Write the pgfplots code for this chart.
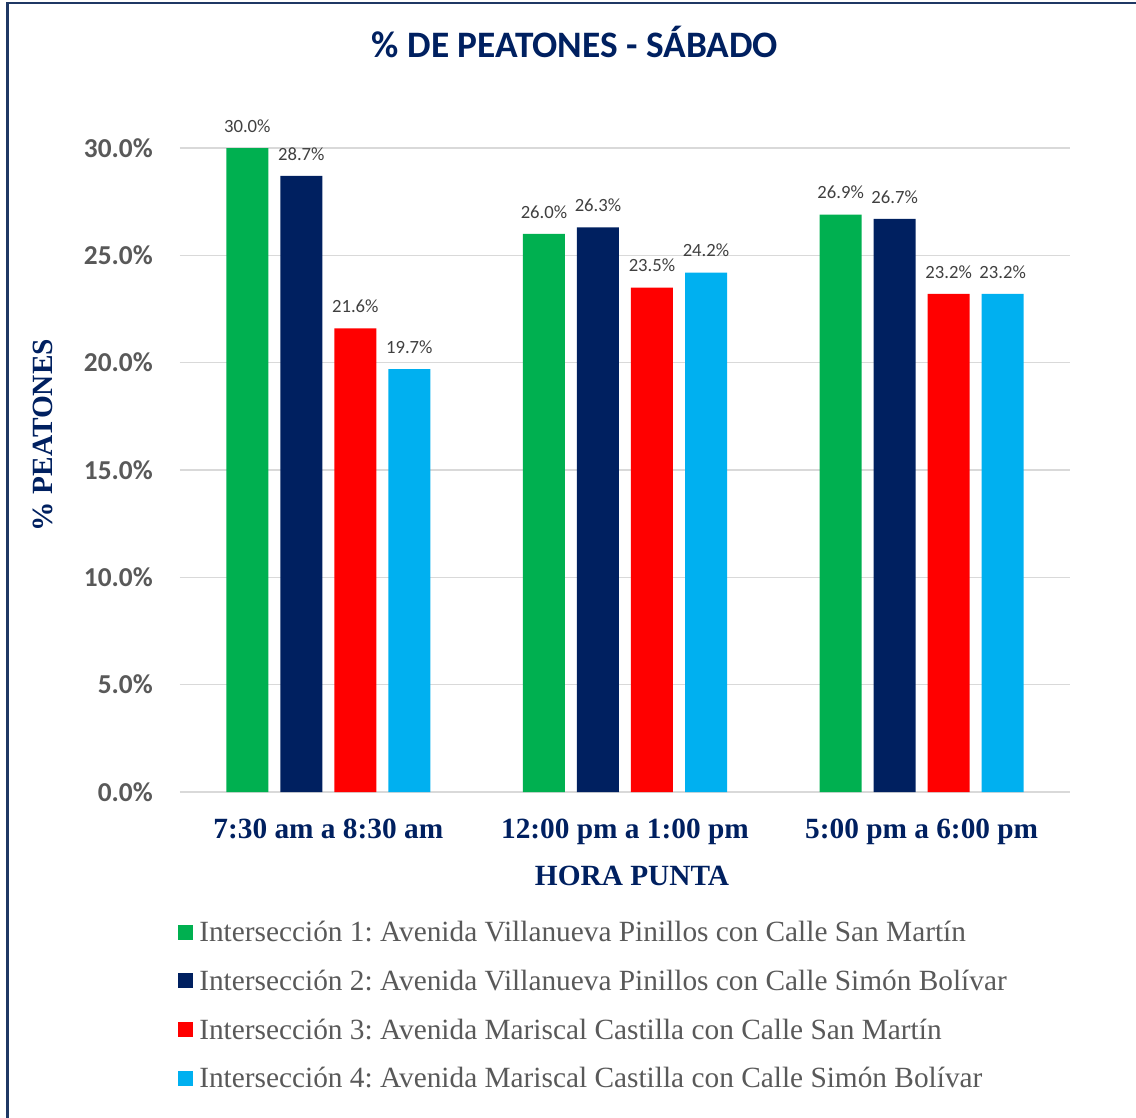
\documentclass[border=0pt]{standalone}
\usepackage{pgfplots}
\pgfplotsset{compat=1.18}
\usepackage{fontspec}
\setmainfont{Carlito}
\newfontfamily\tnr{Liberation Serif}
\definecolor{cgreen}{HTML}{00B050}
\definecolor{cnavy}{HTML}{002060}
\definecolor{cred}{HTML}{FF0000}
\definecolor{ccyan}{HTML}{00B0F0}
\definecolor{gridgray}{HTML}{D9D9D9}
\definecolor{tickgray}{HTML}{595959}
\definecolor{labgray}{HTML}{404040}
\definecolor{framecol}{HTML}{1F3864}
\frenchspacing
\begin{document}
\begin{tikzpicture}
\useasboundingbox (-135pt,-244.5pt) rectangle (717pt,594pt);
\draw[framecol, line width=1.6pt] (-129.4pt,-250pt) -- (-129.4pt,591.8pt) -- (720pt,591.8pt);
\begin{axis}[
  /pgf/number format/assume math mode=true,
  scale only axis,
  width=667.5pt, height=483pt,
  at={(0pt,0pt)}, anchor=south west,
  xmin=-0.5, xmax=2.5, ymin=0, ymax=30,
  ybar=9pt, bar width=31.5pt,
  xtick={0,1,2},
  xticklabels={7:30 am a 8:30 am, 12:00 pm a 1:00 pm, 5:00 pm a 6:00 pm},
  xticklabel style={anchor=base, yshift=-34.5pt, inner sep=0pt, font=\tnr\bfseries\fontsize{22}{24}\selectfont, text=cnavy},
  ytick={0,5,10,15,20,25,30},
  yticklabel={\pgfmathprintnumber[fixed,fixed zerofill,precision=1]{\tick}\%},
  yticklabel style={anchor=east, inner sep=0pt, xshift=-20.25pt, font=\bfseries\fontsize{20.5}{22}\selectfont, text=tickgray},
  major tick length=0pt,
  axis x line*=bottom,
  axis y line*=left,
  y axis line style={draw=none},
  x axis line style={draw=gridgray, line width=1.1pt, -},
  ymajorgrids,
  grid style={draw=gridgray, line width=1.1pt},
  title={\% DE PEATONES - SÁBADO},
  title style={at={(axis description cs:0.4438,1.1522)}, anchor=center, inner sep=0pt, font=\bfseries\fontsize{28}{30}\selectfont, text=cnavy},
  xlabel={HORA PUNTA},
  xlabel style={at={(axis description cs:0.5079,-0.1304)}, anchor=center, inner sep=0pt, font=\tnr\bfseries\fontsize{22}{24}\selectfont, text=cnavy},
  ylabel={\% PEATONES},
  ylabel style={at={(axis description cs:-0.1539,0.5543)}, anchor=center, rotate=0, inner sep=0pt, font=\tnr\bfseries\fontsize{22}{24}\selectfont, text=cnavy},
  nodes near coords={\pgfmathprintnumber[fixed,fixed zerofill,precision=1]{\pgfplotspointmeta}\%},
  every node near coord/.append style={anchor=south, inner sep=0pt, yshift=11.5pt, font=\fontsize{14}{16}\selectfont, text=labgray},
  legend cell align=left,
  legend style={at={(axis description cs:-0.00225,-0.2019)}, anchor=north west, draw=none, fill=none, inner sep=0pt, row sep=21.9pt, column sep=4.5pt, nodes={inner sep=0pt, text height=14.6pt, text depth=0pt}, font=\tnr\fontsize{22}{24}\selectfont, text=tickgray},
  legend image code/.code={\fill[#1] (0pt,-5.625pt) rectangle (11.25pt,5.625pt);},
]
\addplot[fill=cgreen, draw=none] coordinates {(0,30.0) (1,26.0) (2,26.9)};
\addplot[fill=cnavy, draw=none] coordinates {(0,28.7) (1,26.3) (2,26.7)};
\addplot[fill=cred, draw=none] coordinates {(0,21.6) (1,23.5) (2,23.2)};
\addplot[fill=ccyan, draw=none] coordinates {(0,19.7) (1,24.2) (2,23.2)};
\legend{Intersección 1: Avenida Villanueva Pinillos con Calle San Martín,
Intersección 2: Avenida Villanueva Pinillos con Calle Simón Bolívar,
Intersección 3: Avenida Mariscal Castilla con Calle San Martín,
Intersección 4: Avenida Mariscal Castilla con Calle Simón Bolívar}
\end{axis}
\end{tikzpicture}
\end{document}
